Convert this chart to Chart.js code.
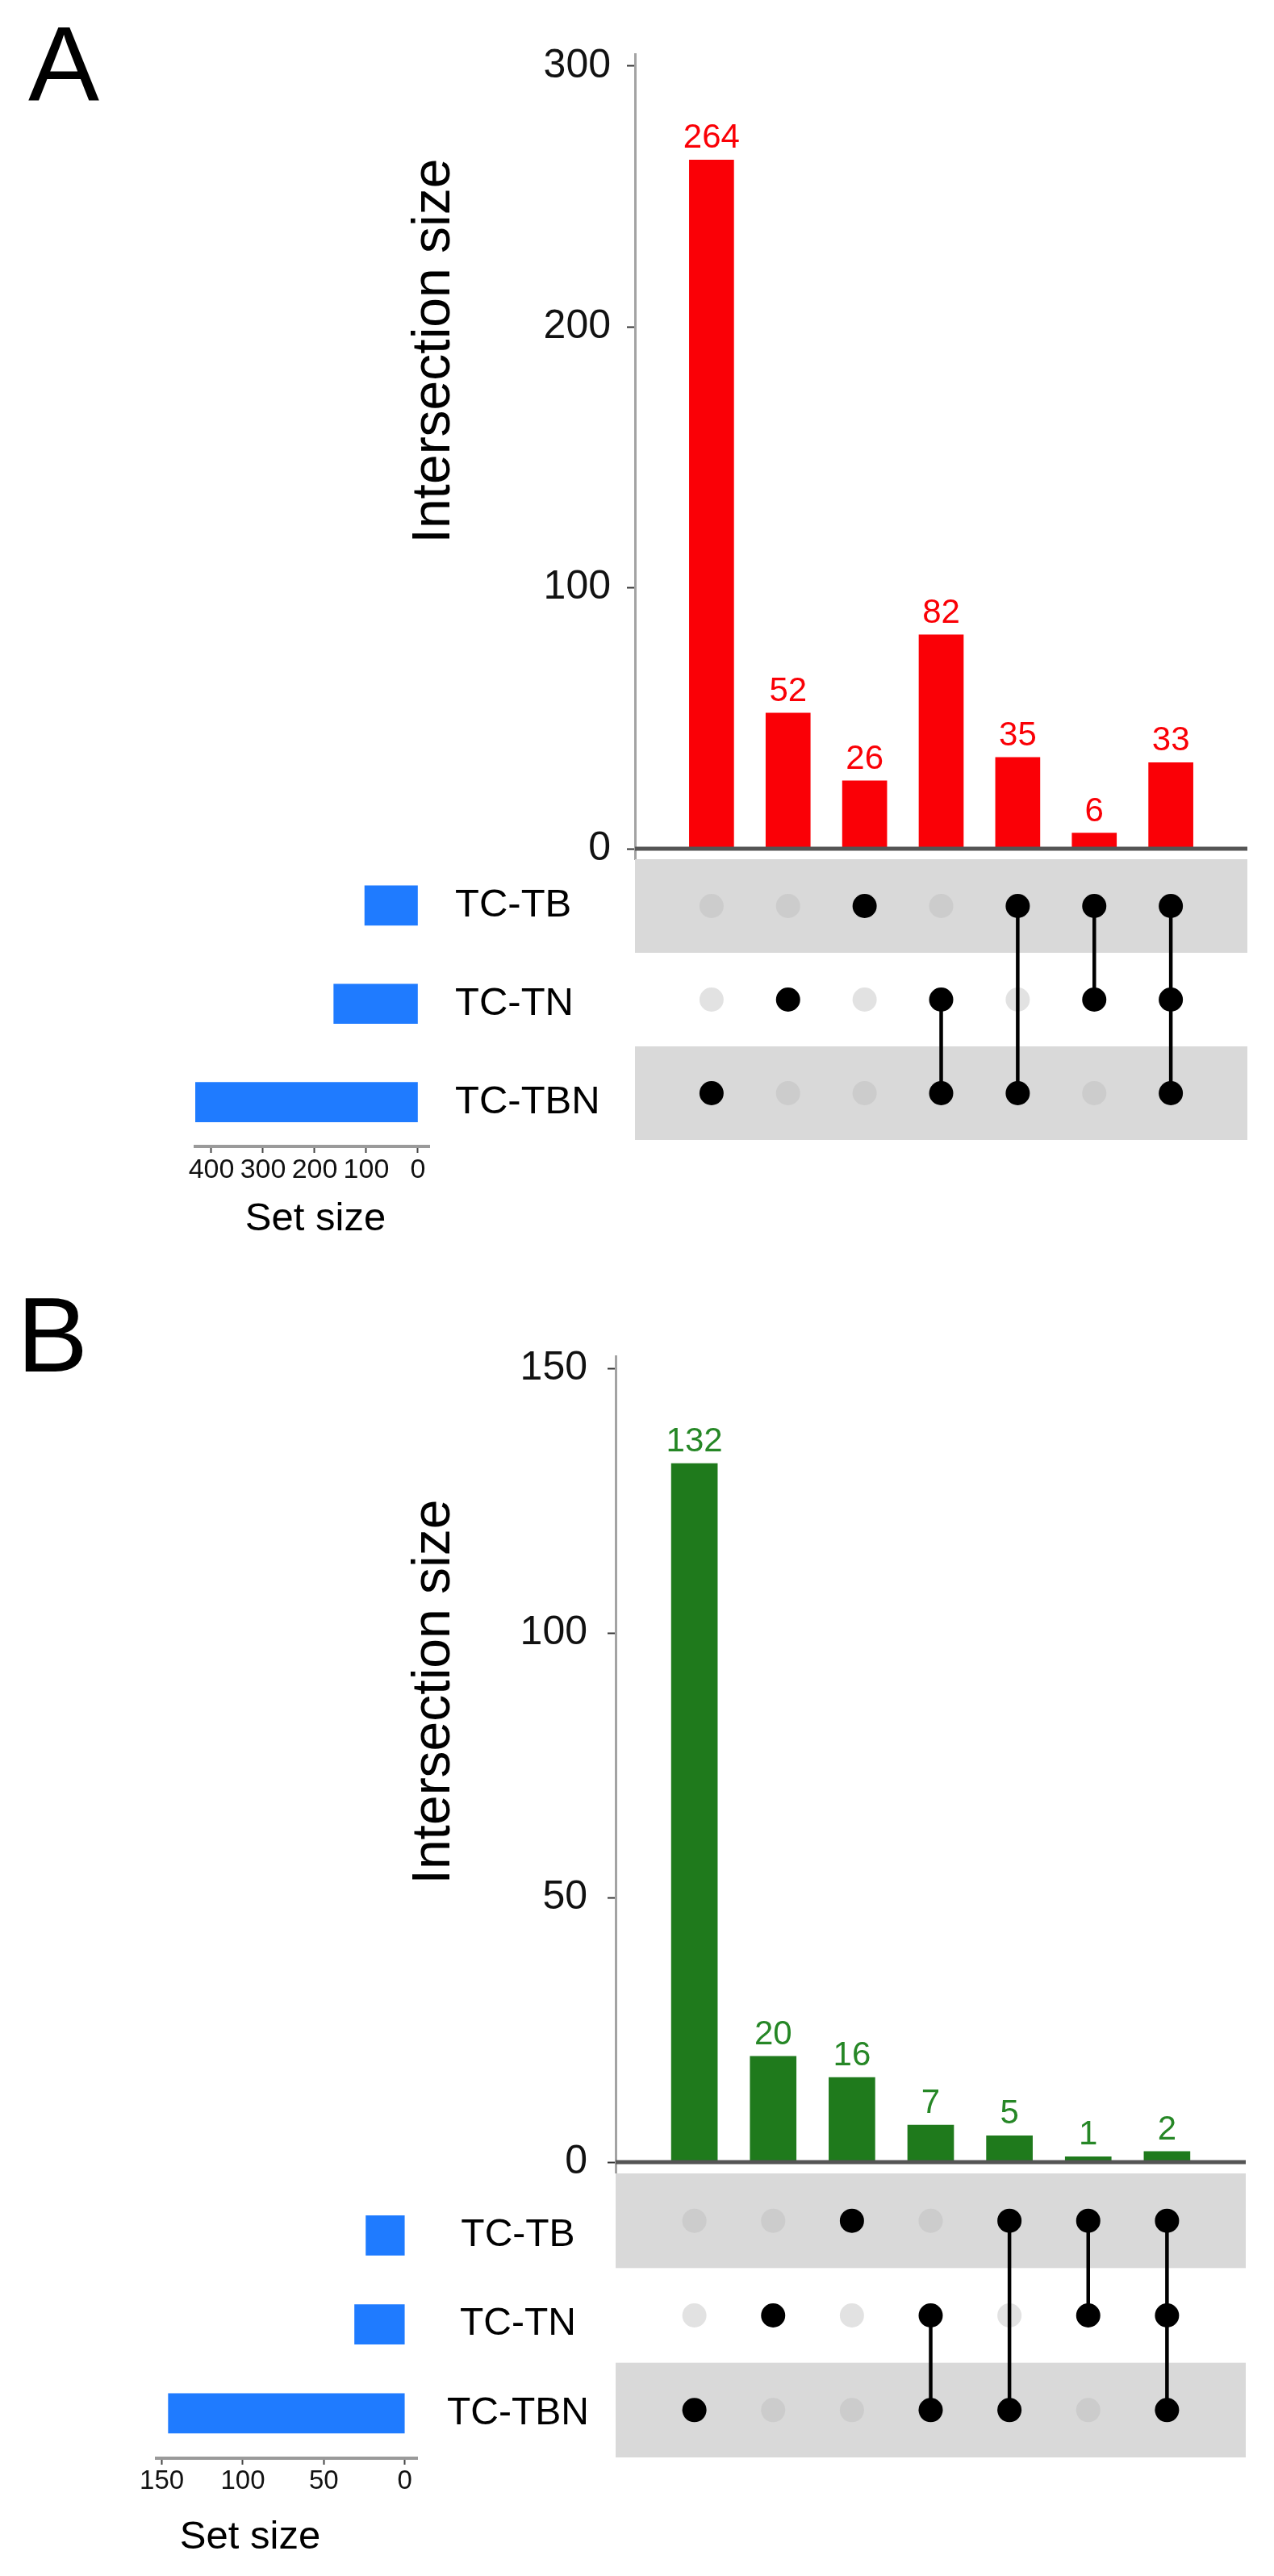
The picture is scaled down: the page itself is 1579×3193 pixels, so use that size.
<!DOCTYPE html>
<html>
<head>
<meta charset="utf-8">
<script src="https://cdn.jsdelivr.net/npm/chart.js@4.4.0/dist/chart.umd.min.js"></script>
<style>
  html, body { margin: 0; padding: 0; background: #fff; }
  body { position: relative; width: 1579px; height: 3193px; overflow: hidden; font-family: 'Liberation Sans', Arial, sans-serif; }
  .tag { position: absolute; font-size: 132px; line-height: 1; color: #000; }
</style>
</head>
<body>
<div class="tag" style="left:35px;top:14px">A</div>
<div class="tag" style="left:21px;top:1589px">B</div>
<script>
// sets shown as rows of the matrix
const setNames = ['TC-TB', 'TC-TN', 'TC-TBN'];
// which sets (row index) each intersection column contains
const members = [[2], [1], [0], [1, 2], [0, 2], [0, 1], [0, 1, 2]];

// panel A
const sizesA = [264, 52, 26, 82, 35, 6, 33];
const setSizesA = [103, 163, 432];
const yTicksA = [0, 100, 200, 300];
const setTicksA = [0, 100, 200, 300, 400];

// panel B
const sizesB = [132, 20, 16, 7, 5, 1, 2];
const setSizesB = [24, 31, 146];
const yTicksB = [0, 50, 100, 150];
const setTicksB = [0, 50, 100, 150];

const FONT = "'Liberation Sans', Arial, sans-serif";
Chart.defaults.font.family = FONT;

function canvasAt(r) {
  const c = document.createElement('canvas');
  c.width = r.w;
  c.height = r.h;
  c.style.cssText = 'position:absolute;left:' + r.x + 'px;top:' + r.y + 'px;width:' + r.w + 'px;height:' + r.h + 'px';
  document.body.appendChild(c);
  return c;
}

// text drawn at page position (x, y), optionally rotated
const freeText = {
  id: 'freeText',
  afterDraw(chart, args, opts) {
    const ctx = chart.ctx;
    const box = chart.canvas.getBoundingClientRect();
    (opts.items || []).forEach(function (t) {
      ctx.save();
      ctx.translate(t.x - box.left, t.y - box.top);
      if (t.rotate) ctx.rotate(t.rotate);
      ctx.font = t.size + 'px ' + FONT;
      ctx.fillStyle = '#000';
      ctx.textAlign = 'center';
      ctx.textBaseline = 'middle';
      ctx.fillText(t.text, 0, 0);
      ctx.restore();
    });
  }
};

// thick zero line + numbers on top of the bars
const barExtras = {
  id: 'barExtras',
  afterDatasetsDraw(chart, args, opts) {
    const ctx = chart.ctx;
    const a = chart.chartArea;
    const y0 = chart.scales.y.getPixelForValue(0);
    ctx.save();
    ctx.strokeStyle = '#555';
    ctx.lineWidth = 5;
    ctx.beginPath();
    ctx.moveTo(a.left, y0);
    ctx.lineTo(a.right, y0);
    ctx.stroke();
    ctx.font = opts.size + 'px ' + FONT;
    ctx.fillStyle = opts.color;
    ctx.textAlign = 'center';
    ctx.textBaseline = 'alphabetic';
    const ds = chart.data.datasets[0].data;
    chart.getDatasetMeta(0).data.forEach(function (bar, i) {
      ctx.fillText(String(ds[i].y), bar.x, bar.y - opts.gap);
    });
    ctx.restore();
  }
};

// grey bands behind every other matrix row
const bands = {
  id: 'bands',
  beforeDatasetsDraw(chart) {
    const ctx = chart.ctx;
    const a = chart.chartArea;
    const y = chart.scales.y;
    ctx.save();
    ctx.fillStyle = '#d9d9d9';
    setNames.forEach(function (_, r) {
      if (r % 2 !== 0) return;
      const t = y.getPixelForValue(r - 0.5);
      const b = y.getPixelForValue(r + 0.5);
      ctx.fillRect(a.left, Math.min(t, b), a.right - a.left, Math.abs(b - t));
    });
    ctx.restore();
  }
};

function makePanel(p) {
  // intersection size bars
  new Chart(canvasAt(p.bar), {
    type: 'bar',
    data: {
      datasets: [{
        data: p.sizes.map(function (v, i) { return { x: i + 1, y: v }; }),
        backgroundColor: p.color,
        barThickness: p.barW
      }]
    },
    options: {
      responsive: false,
      animation: false,
      layout: { autoPadding: false, padding: { left: 0, top: p.plotTop - p.bar.y, right: p.bar.x + p.bar.w - p.plotRight, bottom: p.bar.y + p.bar.h - p.plotBottom } },
      plugins: {
        legend: { display: false },
        tooltip: { enabled: false },
        barExtras: { color: p.labelColor, size: 42, gap: 15 },
        freeText: { items: [{ text: 'Intersection size', x: 539, y: p.titleY, size: 66, rotate: -Math.PI / 2 }] }
      },
      scales: {
        x: { type: 'linear', min: 0, max: 8, offset: false, display: false, ticks: { stepSize: 1 } },
        y: {
          min: p.yMin, max: p.yMax,
          afterBuildTicks: function (s) { s.ticks = p.yTicks.map(function (v) { return { value: v }; }); },
          afterFit: function (s) { s.width = p.plotLeft - p.bar.x; },
          ticks: { font: { size: 50 }, color: '#111', padding: p.tickPad },
          grid: { drawOnChartArea: false, tickLength: 10, tickColor: '#333', tickWidth: 2 },
          border: { color: '#a3a3a3', width: 3 }
        }
      }
    },
    plugins: [barExtras, freeText]
  });

  // membership matrix
  const on = [], off = [];
  members.forEach(function (m, i) {
    setNames.forEach(function (_, r) {
      (m.indexOf(r) >= 0 ? on : off).push({ x: i + 1, y: r });
    });
  });
  const links = [];
  members.forEach(function (m, i) {
    if (m.length < 2) return;
    links.push({
      data: [{ x: i + 1, y: Math.min.apply(null, m) }, { x: i + 1, y: Math.max.apply(null, m) }],
      showLine: true, borderColor: '#000', borderWidth: 4.5, pointRadius: 0, order: 1
    });
  });
  new Chart(canvasAt(p.mat), {
    type: 'scatter',
    data: {
      datasets: [
        { data: on, pointRadius: 15, pointBackgroundColor: '#000', pointBorderWidth: 0, order: 0 },
        { data: off, pointRadius: 15, pointBackgroundColor: 'rgba(185,185,185,0.42)', pointBorderWidth: 0, order: 2 }
      ].concat(links)
    },
    options: {
      responsive: false,
      animation: false,
      layout: { autoPadding: false, padding: 0 },
      plugins: { legend: { display: false }, tooltip: { enabled: false } },
      scales: {
        x: { type: 'linear', min: 0, max: 8, offset: false, display: false },
        y: { type: 'linear', min: -0.5, max: 2.5, offset: false, reverse: true, display: false }
      }
    },
    plugins: [bands]
  });

  // set size bars
  new Chart(canvasAt(p.set), {
    type: 'bar',
    data: {
      datasets: [{
        data: p.setSizes.map(function (v, r) { return { x: v, y: r }; }),
        backgroundColor: '#1f7bff',
        barThickness: p.setBarH
      }]
    },
    options: {
      indexAxis: 'y',
      responsive: false,
      animation: false,
      layout: { autoPadding: false, padding: { left: p.setLeft - p.set.x, top: p.setTop - p.set.y, right: 0, bottom: 0 } },
      plugins: {
        legend: { display: false },
        tooltip: { enabled: false },
        freeText: { items: [{ text: 'Set size', x: p.setTitleX, y: p.setTitleY, size: 49 }] }
      },
      scales: {
        x: {
          type: 'linear', reverse: true, min: p.setMin, max: p.setMax, offset: false,
          afterBuildTicks: function (s) { s.ticks = p.setTicks.map(function (v) { return { value: v }; }); },
          afterFit: function (s) { s.height = p.set.y + p.set.h - p.setAxisY; },
          ticks: { font: { size: p.setTickSize }, color: '#111', padding: 1, maxRotation: 0 },
          grid: { drawOnChartArea: false, tickLength: 8, tickColor: '#444', tickWidth: 2 },
          border: { color: '#9a9a9a', width: 4 }
        },
        y: {
          type: 'linear', position: 'right', reverse: true, min: -0.5, max: p.setRowMax, offset: false,
          afterBuildTicks: function (s) { s.ticks = setNames.map(function (_, r) { return { value: r }; }); },
          afterFit: function (s) { s.width = p.set.x + p.set.w - p.setRight; },
          ticks: {
            callback: function (v) { return setNames[v]; },
            font: { size: p.nameSize }, color: '#000', padding: p.namePad, crossAlign: p.nameAlign
          },
          grid: { display: false, drawTicks: false, offset: false },
          border: { display: false }
        }
      }
    },
    plugins: [freeText]
  });
}

makePanel({
  sizes: sizesA, setSizes: setSizesA, yTicks: yTicksA, setTicks: setTicksA,
  color: '#fa0006', labelColor: '#fa0006', barW: 55,
  bar: { x: 0, y: 0, w: 1579, h: 1130 },
  plotLeft: 787, plotRight: 1546, plotTop: 67, plotBottom: 1065,
  yMin: -4.02, yMax: 304.6, tickPad: 20, titleY: 435,
  mat: { x: 787, y: 1065, w: 759, h: 348 },
  set: { x: 0, y: 1000, w: 800, h: 600 },
  setLeft: 242, setRight: 532, setTop: 1053.75, setAxisY: 1421, setRowMax: 2.45,
  setMin: -21.9, setMax: 431.25, setBarH: 49, setTickSize: 34,
  nameSize: 49, namePad: 32, nameAlign: 'near',
  setTitleX: 391, setTitleY: 1511
});

makePanel({
  sizes: sizesB, setSizes: setSizesB, yTicks: yTicksB, setTicks: setTicksB,
  color: '#1f7a1c', labelColor: '#268726', barW: 57,
  bar: { x: 0, y: 1600, w: 1579, h: 1160 },
  plotLeft: 763, plotRight: 1544, plotTop: 1681, plotBottom: 2693,
  yMin: -1.98, yMax: 152.3, tickPad: 25, titleY: 2097,
  mat: { x: 763, y: 2694, w: 781, h: 352 },
  set: { x: 0, y: 2650, w: 800, h: 543 },
  setLeft: 194, setRight: 517, setTop: 2705.1, setAxisY: 3047, setRowMax: 2.505,
  setMin: -7.6, setMax: 153.3, setBarH: 49, setTickSize: 33,
  nameSize: 48, namePad: 37, nameAlign: 'center',
  setTitleX: 310, setTitleY: 3145
});
</script>
</body>
</html>
